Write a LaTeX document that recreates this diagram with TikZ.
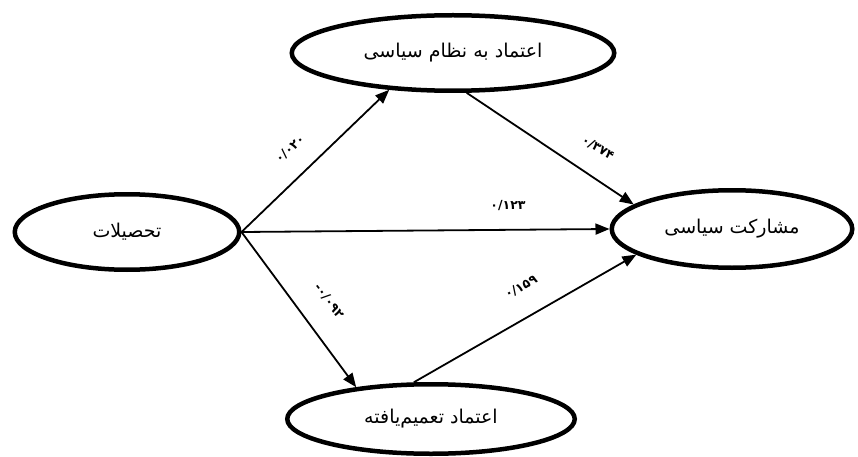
\documentclass[tikz,border=0pt]{standalone}
\usepackage{fontspec}
\usetikzlibrary{shapes.geometric,arrows.meta}
\newfontfamily\arabicfont[Script=Arabic]{DejaVu Sans}
\TeXXeTstate=1
\begin{document}
\begin{tikzpicture}[x=1pt,y=-1pt,
  ell/.style={ellipse, draw, line width=4.5pt, inner sep=0pt,
    font=\arabicfont\fontsize{19}{22}\selectfont},
  conn/.style={line width=1.8pt, -{Triangle[length=14pt,width=11pt]}},
  lbl/.style={font=\arabicfont\bfseries\fontsize{12.5}{14}\selectfont, inner sep=0pt}]
\fill[white] (0,0) rectangle (858,457);
\useasboundingbox (0,0) rectangle (858,457);

\node[ell, minimum width=224.5pt, minimum height=75.5pt] (edu) at (127,232) {\beginR تحصیلات\endR};
\node[ell, minimum width=322.5pt, minimum height=75.5pt] (top) at (453,53) {\beginR اعتماد به نظام سیاسی\endR};
\node[ell, minimum width=287.5pt, minimum height=69.5pt] (bot) at (431,419) {\beginR اعتماد تعمیم‌یافته\endR};
\node[ell, minimum width=240.5pt, minimum height=77.5pt] (part) at (732,229) {\beginR مشارکت سیاسی\endR};

\draw[conn] (edu.east) -- (top.210);
\draw[conn] (edu.east) -- (part.west);
\draw[conn] (edu.east) -- (bot.157);
\draw[conn] (top.-71) -- (part.166);
\draw[conn] (bot.115) -- (part.195);

\node[lbl, rotate=43] (l1) at (290,149) {۰/۰۲۰};
\node[lbl, rotate=-31] (l2) at (598,148) {۰/۳۷۴};
\node[lbl] (l3) at (508,206) {۰/۱۲۳};
\node[lbl, rotate=-53] (l4) at (329,301) {\hbox{-}\hbox{۰/۰۹۲}};
\node[lbl, rotate=29] (l5) at (521,287) {۰/۱۵۹};
\end{tikzpicture}
\end{document}
